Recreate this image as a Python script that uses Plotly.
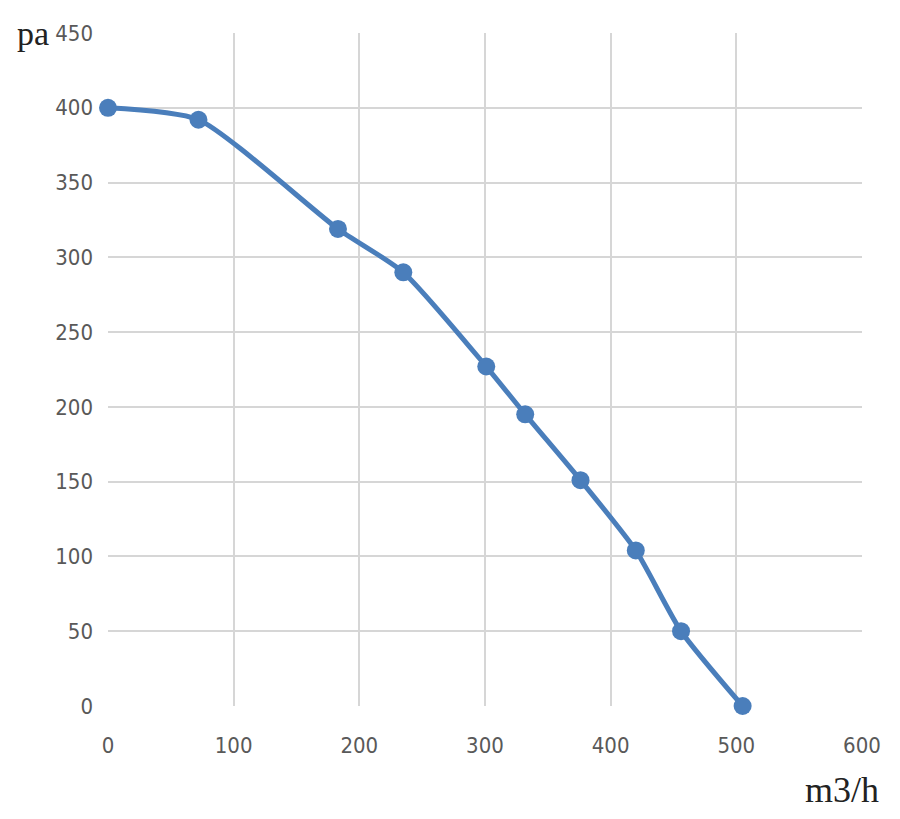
import plotly.graph_objects as go

# airflow (m3/h) vs static pressure (pa)
flow = [0, 72, 183, 235, 301, 332, 376, 420, 456, 505]
pressure = [400, 392, 319, 290, 227, 195, 151, 104, 50, 0]

x_ticks = [0, 100, 200, 300, 400, 500, 600]
y_ticks = [0, 50, 100, 150, 200, 250, 300, 350, 400, 450]

BLUE = '#4a7ebb'
GRID = '#d6d6d6'
TICKFONT = dict(family='DejaVu Sans Condensed, Liberation Sans Narrow, Roboto', size=22, color='#595959')

fig = go.Figure()

fig.add_trace(go.Scatter(
    x=flow,
    y=pressure,
    mode='lines+markers',
    line=dict(color=BLUE, width=5, shape='spline', smoothing=0.6),
    marker=dict(color=BLUE, size=18),
    cliponaxis=False,
    showlegend=False,
))

fig.update_xaxes(
    range=[0, 600],
    tickvals=x_ticks,
    showgrid=True,
    gridcolor=GRID,
    gridwidth=2,
    zeroline=False,
    showline=False,
    ticks='',
    tickfont=TICKFONT,
    ticklabelstandoff=24,
)
fig.update_yaxes(
    range=[0, 450],
    tickvals=y_ticks,
    showgrid=True,
    gridcolor=GRID,
    gridwidth=2,
    zeroline=False,
    showline=False,
    ticks='',
    tickfont=TICKFONT,
    ticklabelstandoff=14,
)

fig.add_annotation(
    text='pa', xref='paper', yref='paper', x=-0.076, y=1.0,
    xanchor='right', yanchor='middle', showarrow=False,
    font=dict(family='Liberation Serif', size=34, color='#222222'),
)
fig.add_annotation(
    text='m3/h', xref='paper', yref='paper', x=1.025, y=-0.125,
    xanchor='right', yanchor='middle', showarrow=False,
    font=dict(family='Liberation Serif', size=36, color='#222222'),
)

fig.update_layout(
    width=892,
    height=811,
    margin=dict(l=100, r=38, t=25, b=113),
    plot_bgcolor='white',
    paper_bgcolor='white',
)

fig.write_html('out.html')
